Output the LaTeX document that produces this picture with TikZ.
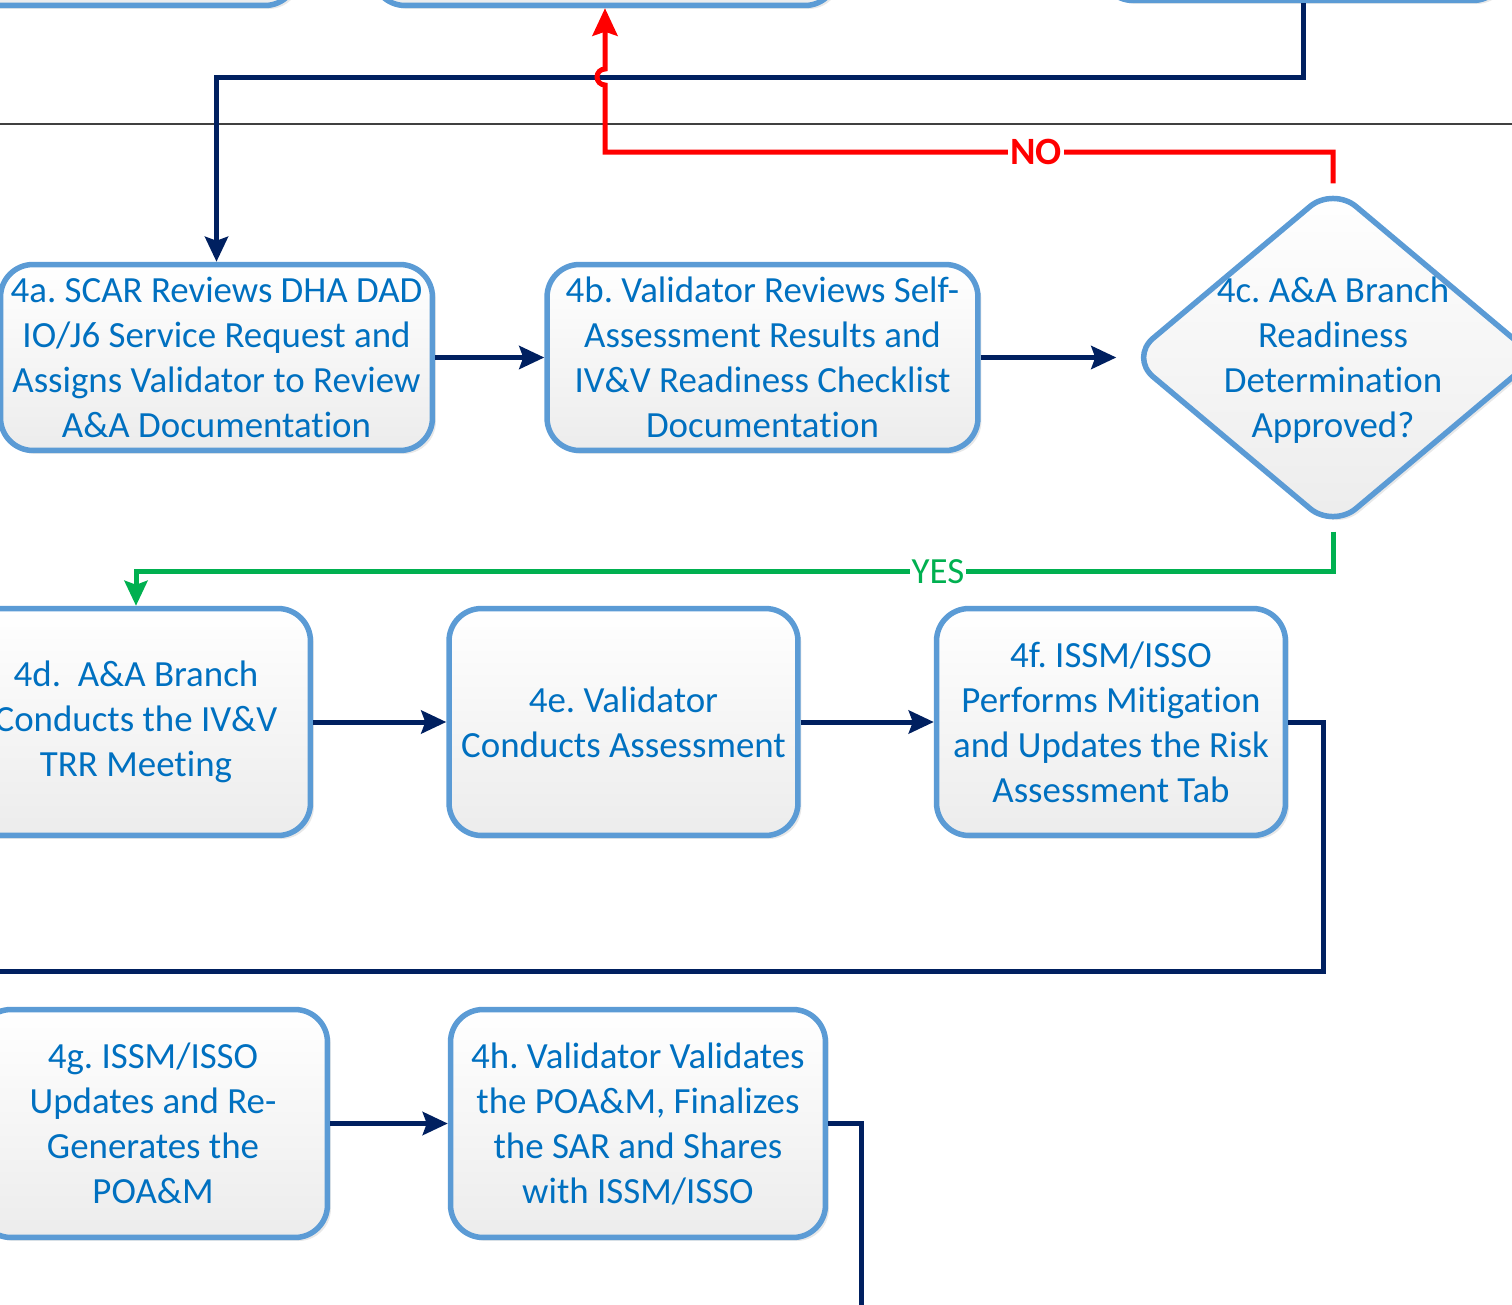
\documentclass[tikz,border=0pt]{standalone}
\usepackage{fontspec}
\setmainfont{Carlito}[Ligatures = {NoCommon}]
\frenchspacing
\usetikzlibrary{shapes.geometric,arrows.meta,shadows}
\definecolor{boxBlue}{HTML}{5B9BD5}
\definecolor{txtBlue}{HTML}{0070C0}
\definecolor{lineNavy}{HTML}{002060}
\definecolor{noRed}{HTML}{FF0000}
\definecolor{yesGreen}{HTML}{00B050}
\definecolor{boxGray}{HTML}{ECECEC}
\definecolor{laneGray}{HTML}{404040}
\tikzstyle{stepText}=[text = txtBlue, align = center, font = \fontsize{21}{25.6}\selectfont]
\tikzstyle{stepBox}=[shape = rectangle, rounded corners = 0.65cm, draw = boxBlue, line width = 0.11cm, top color = white, bottom color = boxGray, inner sep = 0pt, stepText, drop shadow = {shadow xshift = 0.07cm, shadow yshift = -0.07cm, opacity = 0.18}]
\tikzstyle{decisionBox}=[shape = diamond, rounded corners = 0.6cm, draw = boxBlue, line width = 0.11cm, top color = white, bottom color = boxGray, inner sep = 0pt, drop shadow = {shadow xshift = 0.07cm, shadow yshift = -0.07cm, opacity = 0.18}]
\tikzstyle{flowLine}=[draw = lineNavy, line width = 0.1cm]
\tikzstyle{flowEdge}=[flowLine, -{Stealth[length = 0.5cm, width = 0.46cm, inset = 0.08cm]}]

\begin{document}
\begin{tikzpicture}[x = 0.02cm, y = -0.02cm]
\tikzstyle{noEdge}=[draw = noRed, line width = 0.1cm, -{Stealth[length = 0.55cm, width = 0.5cm, inset = 0.08cm]}]
\tikzstyle{yesEdge}=[draw = yesGreen, line width = 0.1cm, -{Stealth[length = 0.5cm, width = 0.46cm, inset = 0.08cm]}]
\tikzstyle{noLabel}=[fill = white, text = noRed, inner sep = 1pt, font = \fontsize{22}{26}\selectfont\bfseries]
\tikzstyle{yesLabel}=[fill = white, text = yesGreen, inner sep = 1pt, font = \fontsize{21}{25}\selectfont]
\useasboundingbox (0,0) rectangle (1512,1305);
\clip (0,0) rectangle (1512,1305);
% row above the lane
\node[stepBox, minimum width = 9.9cm, minimum height = 2.7cm] (topL) at (50,-62) {};
\node[stepBox, minimum width = 9.3cm, minimum height = 2.7cm] (topM) at (605,-62) {};
\node[stepBox, minimum width = 8.1cm, minimum height = 2.7cm] (topR) at (1303,-67) {};
\draw[draw = laneGray, line width = 0.04cm] (0,124) -- (1512,124);
% step 4 boxes
\node[stepBox, minimum width = 8.64cm, minimum height = 3.72cm] (s4a) at (216.5,357.5)
  {4a. SCAR Reviews DHA DAD\\IO/J6 Service Request and\\Assigns Validator to Review\\A\&A Documentation};
\node[stepBox, minimum width = 8.62cm, minimum height = 3.72cm] (s4b) at (762.5,357.5)
  {4b. Validator Reviews Self-\\Assessment Results and\\IV\&V Readiness Checklist\\Documentation};
\node[decisionBox, minimum width = 8.16cm, minimum height = 6.86cm,
  label = {[stepText, yshift = -0.06cm]center:4c. A\&A Branch\\Readiness\\Determination\\Approved?}] (s4c) at (1333,357.5) {};
\node[stepBox, minimum width = 6.98cm, minimum height = 4.54cm] (s4d) at (136,722)
  {4d.\ \ A\&A Branch\\Conducts the IV\&V\\TRR Meeting};
\node[stepBox, minimum width = 6.98cm, minimum height = 4.54cm] (s4e) at (623.5,722)
  {4e. Validator\\Conducts Assessment};
\node[stepBox, minimum width = 6.98cm, minimum height = 4.54cm] (s4f) at (1111,722)
  {4f. ISSM/ISSO\\Performs Mitigation\\and Updates the Risk\\Assessment Tab};
\node[stepBox, minimum width = 6.98cm, minimum height = 4.56cm] (s4g) at (153,1123.5)
  {4g. ISSM/ISSO\\Updates and Re-\\Generates the\\POA\&M};
\node[stepBox, minimum width = 7.5cm, minimum height = 4.56cm] (s4h) at (638,1123.5)
  {4h. Validator Validates\\the POA\&M, Finalizes\\the SAR and Shares\\with ISSM/ISSO};
\coordinate (noBend) at (605,152);
\coordinate (hopLow) at (605,85);
\coordinate (exitLeft) at (-20,971);
\coordinate (exitDown) at (861,1320);
% connectors
\draw[flowEdge] (topR.south) -- ++(0,74) -| (s4a.north);
\draw[noEdge] (s4c.north) |- node[noLabel, pos = 0.704] {NO} (noBend) -- (hopLow)
  arc[start angle = 270, end angle = 90, radius = 0.16cm] -- (topM.south);
\draw[flowEdge] (s4a) -- (s4b);
\draw[flowEdge, shorten >= 0.2cm] (s4b) -- (s4c);
\draw[yesEdge] (s4c.south) -- ++(0,40) -| node[yesLabel, pos = 0.165] {YES} (s4d.north);
\draw[flowEdge] (s4d) -- (s4e);
\draw[flowEdge] (s4e) -- (s4f);
\draw[flowLine] (s4f.east) -- ++(35,0) |- (exitLeft);
\draw[flowEdge] (s4g) -- (s4h);
\draw[flowLine] (s4h.east) -| (exitDown);
\end{tikzpicture}
\end{document}
